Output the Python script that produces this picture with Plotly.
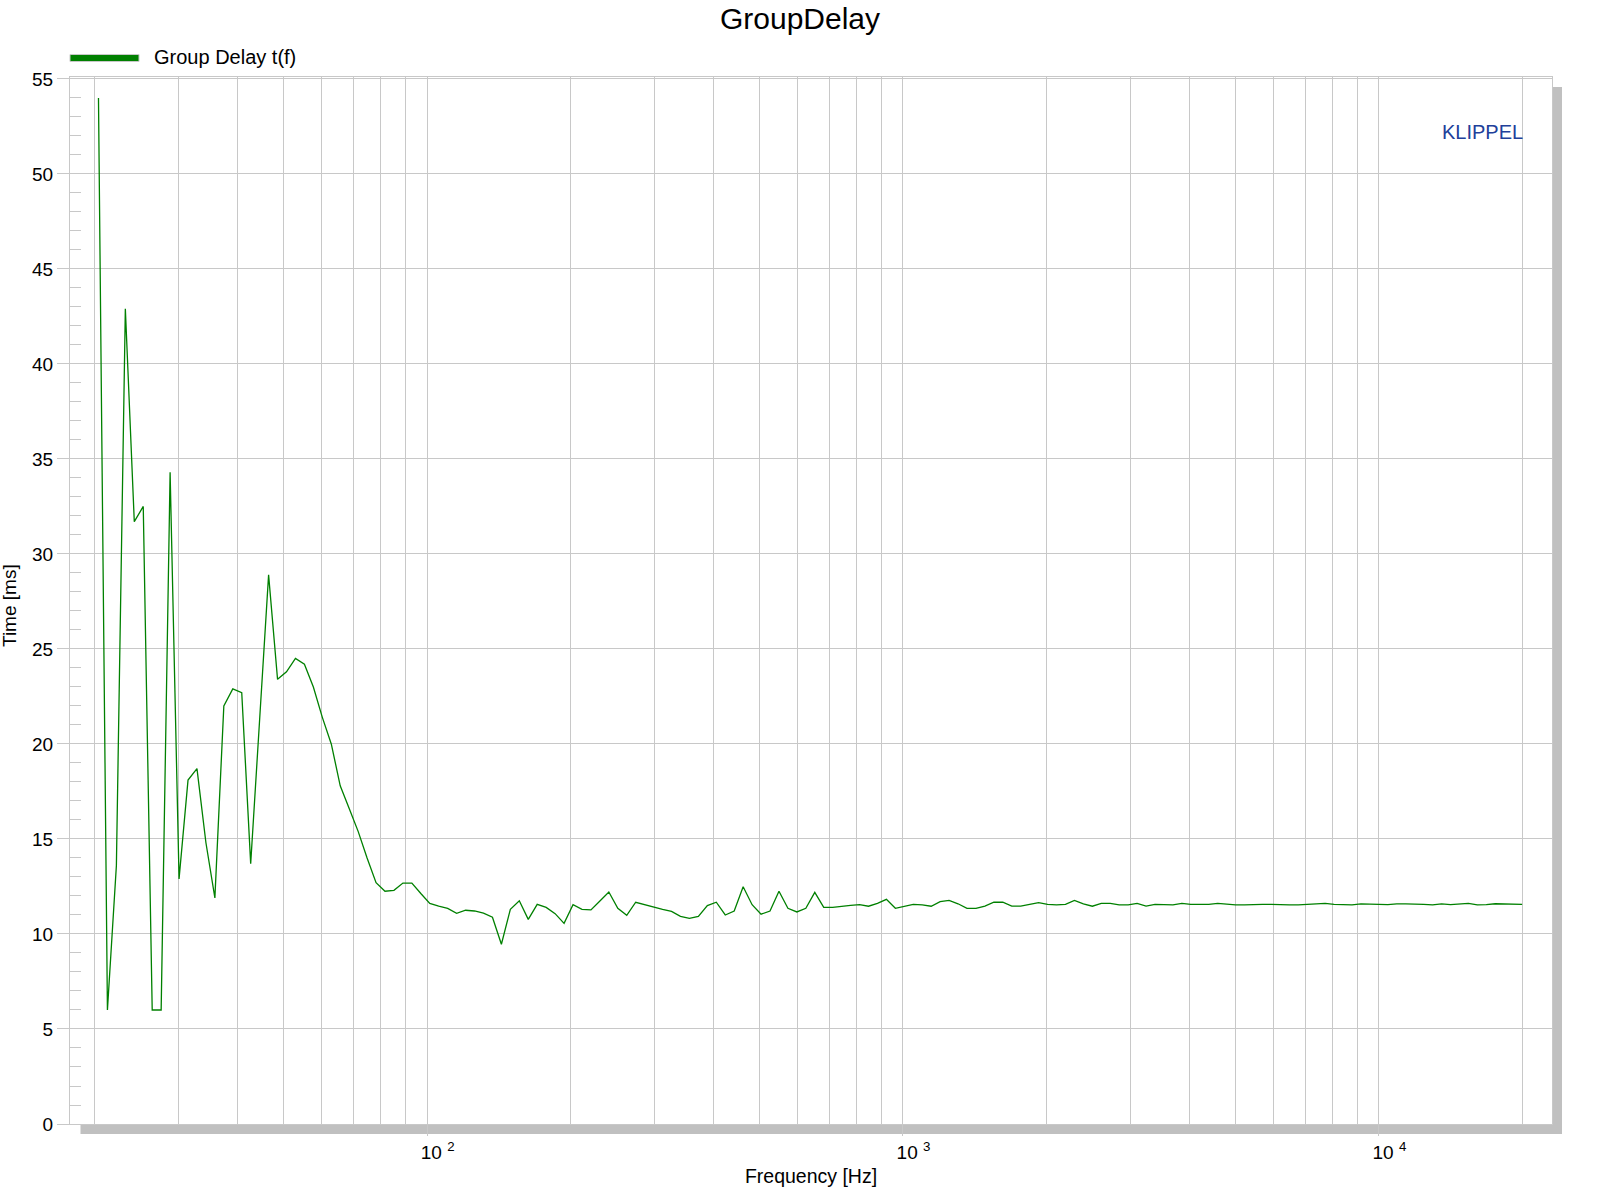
import plotly.graph_objects as go

# Frequencies (Hz), 1/16-octave points
freq_hz = [
    20.396, 21.299, 22.242, 23.227, 24.255, 25.329, 26.451, 27.621, 28.844, 30.121,
    31.455, 32.847, 34.302, 35.820, 37.406, 39.0625,
    40.792, 42.598, 44.484, 46.453, 48.510, 50.658, 52.901, 55.243, 57.689, 60.243,
    62.910, 65.695, 68.604, 71.641, 74.813, 78.125,
    81.584, 85.196, 88.968, 92.907, 97.020, 101.32, 105.80, 110.49, 115.38, 120.49,
    125.82, 131.39, 137.21, 143.28, 149.63, 156.25,
    163.17, 170.39, 177.94, 185.81, 194.04, 202.63, 211.60, 220.97, 230.76, 240.97,
    251.64, 262.78, 274.41, 286.56, 299.25, 312.5,
    326.33, 340.78, 355.87, 371.63, 388.08, 405.26, 423.21, 441.94, 461.51, 481.94,
    503.28, 525.56, 548.83, 573.13, 598.50, 625.0,
    652.67, 681.57, 711.74, 743.26, 776.16, 810.53, 846.41, 883.88, 923.02, 963.88,
    1006.6, 1051.1, 1097.7, 1146.3, 1197.0, 1250.0,
    1305.3, 1363.1, 1423.5, 1486.5, 1552.3, 1621.1, 1692.8, 1767.8, 1846.0, 1927.8,
    2013.1, 2102.2, 2195.3, 2292.5, 2394.0, 2500.0,
    2610.7, 2726.3, 2847.0, 2973.0, 3104.7, 3242.1, 3385.7, 3535.5, 3692.1, 3855.5,
    4026.2, 4204.5, 4390.6, 4585.0, 4788.0, 5000.0,
    5221.4, 5452.6, 5693.9, 5946.1, 6209.3, 6484.2, 6771.3, 7071.1, 7384.2, 7711.1,
    8052.5, 8409.0, 8781.3, 9170.1, 9576.1, 10000.0,
    10443, 10905, 11388, 11892, 12419, 12968, 13543, 14142, 14768, 15422,
    16105, 16818, 17563, 18340, 19152, 20000,
]

# Group delay (ms)
group_delay_ms = [
    54.0, 6.0, 13.6, 42.9, 31.7, 32.5, 6.0, 6.0, 34.3, 12.9,
    18.1, 18.7, 14.8, 11.9, 22.0, 22.9, 22.7, 13.7, 21.3, 28.9,
    23.4, 23.8, 24.5, 24.2, 23.0, 21.4, 20.0, 17.8, 16.6, 15.4,
    14.0, 12.7, 12.25, 12.3, 12.68, 12.68, 12.13, 11.61, 11.47, 11.35,
    11.09, 11.25, 11.21, 11.1, 10.88, 9.46, 11.3, 11.75, 10.77, 11.56,
    11.4, 11.07, 10.56, 11.54, 11.3, 11.27, 11.74, 12.21, 11.35, 10.98,
    11.67, 11.54, 11.4, 11.3, 11.19, 10.93, 10.82, 10.93, 11.49, 11.67,
    11.0, 11.21, 12.49, 11.54, 11.04, 11.21, 12.25, 11.35, 11.16, 11.35,
    12.19, 11.4, 11.4, 11.46, 11.51, 11.54, 11.46, 11.61, 11.82, 11.35,
    11.47, 11.56, 11.53, 11.46, 11.70, 11.77, 11.59, 11.35, 11.35, 11.47,
    11.67, 11.67, 11.47, 11.47, 11.56, 11.65, 11.56, 11.53, 11.56, 11.77,
    11.58, 11.46, 11.61, 11.61, 11.53, 11.53, 11.61, 11.47, 11.56, 11.56,
    11.53, 11.61, 11.56, 11.56, 11.56, 11.61, 11.56, 11.53, 11.53, 11.56,
    11.56, 11.56, 11.53, 11.53, 11.53, 11.56, 11.59, 11.61, 11.56, 11.53,
    11.53, 11.58, 11.58, 11.56, 11.54, 11.58, 11.58, 11.58, 11.56, 11.53,
    11.58, 11.54, 11.56, 11.61, 11.53, 11.54, 11.59, 11.59, 11.56, 11.56,
]

x_major_ticks = [100, 1000, 10000]
x_major_labels = ["\u00a0\u00a0\u00a0\u00a010 <sup>2</sup>",
                  "\u00a0\u00a0\u00a0\u00a010 <sup>3</sup>",
                  "\u00a0\u00a0\u00a0\u00a010 <sup>4</sup>"]
x_minor_ticks = [20, 30, 40, 50, 60, 70, 80, 90,
                 200, 300, 400, 500, 600, 700, 800, 900,
                 2000, 3000, 4000, 5000, 6000, 7000, 8000, 9000, 20000]

FONT = "Liberation Sans, Arial, sans-serif"
GRID = "#c8c8c8"
GREEN = "#008000"

W, H = 1600, 1200
L, R, T, B = 70, 48, 77, 76
pw, ph = W - L - R, H - T - B

def px_x(x):
    return (x - L) / pw

def px_y(y):
    return (H - B - y) / ph

fig = go.Figure()
fig.add_trace(go.Scatter(
    x=freq_hz, y=group_delay_ms, mode="lines",
    name="Group Delay t(f)",
    line=dict(color=GREEN, width=1.3),
    showlegend=False,
))

shapes = [
    # drop shadow bottom
    dict(type="rect", xref="paper", yref="paper", layer="below",
         x0=px_x(80.5), x1=px_x(1562), y0=px_y(1124), y1=px_y(1134),
         fillcolor="#c0c0c0", line=dict(width=0)),
    # drop shadow right
    dict(type="rect", xref="paper", yref="paper", layer="below",
         x0=px_x(1552), x1=px_x(1562), y0=px_y(1134), y1=px_y(87),
         fillcolor="#c0c0c0", line=dict(width=0)),
    # legend swatch
    dict(type="rect", xref="paper", yref="paper",
         x0=px_x(70), x1=px_x(139), y0=px_y(61.5), y1=px_y(54.5),
         fillcolor=GREEN, line=dict(color="#c8c8c8", width=1)),
]

annotations = [
    dict(text="Group Delay t(f)", xref="paper", yref="paper",
         x=px_x(152), y=px_y(57), xanchor="left", yanchor="middle",
         showarrow=False, font=dict(family=FONT, size=20, color="black")),
    dict(text="KLIPPEL", xref="paper", yref="paper",
         x=px_x(1525), y=px_y(132), xanchor="right", yanchor="middle",
         showarrow=False, font=dict(family=FONT, size=20, color="#21409a")),
    # y-axis title
    dict(text="Time [ms]", xref="paper", yref="paper",
         x=px_x(9), y=px_y(606), xanchor="center", yanchor="middle",
         textangle=-90, showarrow=False,
         font=dict(family=FONT, size=19, color="black")),
]

fig.update_layout(
    width=W, height=H,
    margin=dict(l=L, r=R, t=T, b=B, pad=0),
    paper_bgcolor="white", plot_bgcolor="white",
    font=dict(family=FONT, size=19, color="black"),
    title=dict(text="GroupDelay", x=0.5, xref="container", xanchor="center",
               y=1 - 18 / H, yref="container", yanchor="middle",
               font=dict(family=FONT, size=30, color="black")),
    shapes=shapes,
    annotations=annotations,
)

fig.update_xaxes(
    type="log", range=[1.2497, 4.3638],
    tickmode="array", tickvals=x_major_ticks, ticktext=x_major_labels,
    ticks="outside", ticklen=11, tickcolor=GRID, tickwidth=1,
    showgrid=True, gridcolor=GRID, gridwidth=1,
    minor=dict(tickmode="array", tickvals=x_minor_ticks, showgrid=True,
               gridcolor=GRID, gridwidth=1, ticks=""),
    showline=True, mirror=True, linecolor=GRID, linewidth=1,
    zeroline=False,
    tickfont=dict(family=FONT, size=19, color="black"),
    title=dict(text="Frequency [Hz]", standoff=7,
               font=dict(family=FONT, size=19.5, color="black")),
)

fig.update_yaxes(
    range=[0, 55.1], tickmode="linear", tick0=0, dtick=5,
    ticks="outside", ticklen=12, tickcolor=GRID, tickwidth=1,
    showgrid=True, gridcolor=GRID, gridwidth=1,
    minor=dict(dtick=1, ticks="inside", ticklen=11, tickcolor=GRID,
               showgrid=False),
    showline=True, mirror=True, linecolor=GRID, linewidth=1,
    zeroline=False,
    tickfont=dict(family=FONT, size=19, color="black"),
)

fig.write_html("out.html", config={"displayModeBar": False},
               post_script="document.body.style.margin='0';")
